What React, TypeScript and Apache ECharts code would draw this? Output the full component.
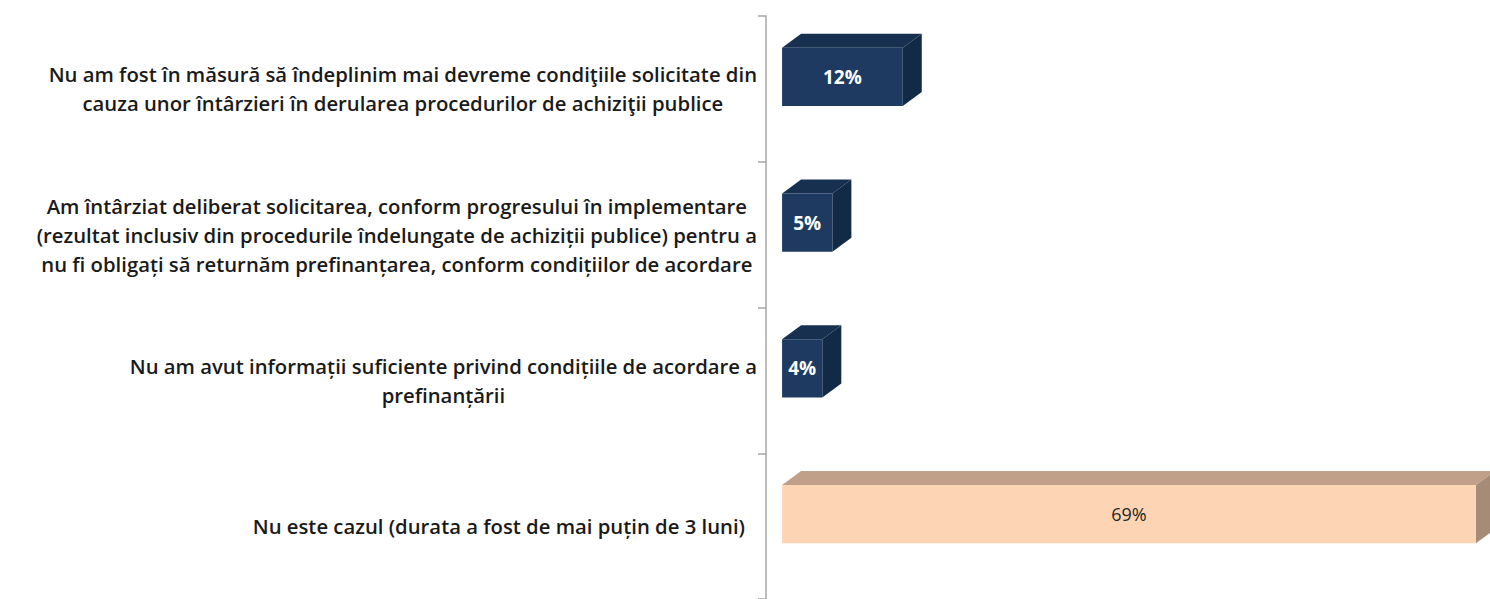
import React, { useEffect, useRef } from "react";
import * as echarts from "echarts";

const categories = [
  "Nu am fost în măsură să îndeplinim mai devreme condiţiile solicitate din\ncauza unor întârzieri în derularea procedurilor de achiziţii publice",
  "Am întârziat deliberat solicitarea, conform progresului în implementare\n(rezultat inclusiv din procedurile îndelungate de achiziții publice) pentru a\nnu fi obligați să returnăm prefinanțarea, conform condițiilor de acordare",
  "Nu am avut informații suficiente privind condițiile de acordare a\nprefinanțării",
  "Nu este cazul (durata a fost de mai puțin de 3 luni)",
];
const values = [12, 5, 4, 69];
const valueLabels = ["12%", "5%", "4%", "69%"];

const FONT = "'Open Sans', sans-serif";
const NAVY = { front: "#1e3a60", top: "#18304f", side: "#132a46", text: "#ffffff" };
const PEACH = { front: "#fdd5b4", top: "#c0a088", side: "#a68c77", text: "#262626" };
const HIGHLIGHT_LAST = true;

export default function App() {
  const ref = useRef<HTMLDivElement>(null);
  useEffect(() => {
    if (!ref.current) return;
    const chart = echarts.init(ref.current, undefined, { renderer: "svg" });
    const dx = 19;
    const dy = 14;
    const labelStyle = {
      align: "center",
      fontFamily: FONT,
      fontWeight: 600,
      fontSize: 20.3,
      lineHeight: 29,
      color: "#1a1a1a",
    };
    const option: any = {
      animation: false,
      backgroundColor: "#ffffff",
      grid: { left: 766, top: 16, height: 588, width: 720, containLabel: false },
      xAxis: { type: "value", min: -1.6, max: 70, show: false },
      yAxis: {
        type: "category",
        data: categories,
        inverse: true,
        axisLine: { show: true, onZero: false, lineStyle: { color: "#a6a6a6", width: 1.5 } },
        axisTick: { show: true, length: 8, lineStyle: { color: "#a6a6a6", width: 1.5 } },
        axisLabel: {
          margin: 9,
          formatter: (v: string) => {
            const last = v === categories[categories.length - 1];
            return v
              .split("\n")
              .map((l) => `{${last ? "d" : "c"}|${l}}`)
              .join("\n");
          },
          rich: {
            c: labelStyle,
            d: { ...labelStyle, padding: [0, 12, 0, 0] },
          },
        },
        splitLine: { show: false },
      },
      series: [
        {
          type: "custom",
          data: values.map((v, i) => [v, i]),
          clip: false,
          renderItem: (params: any, api: any) => {
            const v = api.value(0);
            const idx = api.value(1);
            const c = api.coord([v, idx]);
            const c0 = api.coord([0, idx]);
            const band = api.size([0, 1])[1];
            const h = band * 0.4;
            const yc = c[1] - band * 0.082;
            const top = yc - h / 2;
            const bottom = yc + h / 2;
            const x0 = c0[0];
            const x1 = c[0];
            const pal = HIGHLIGHT_LAST && idx === values.length - 1 ? PEACH : NAVY;
            const isNavy = pal === NAVY;
            return {
              type: "group",
              children: [
                {
                  type: "polygon",
                  shape: { points: [[x0, top], [x0 + dx, top - dy], [x1 + dx, top - dy], [x1, top]] },
                  style: { fill: pal.top },
                },
                {
                  type: "polygon",
                  shape: { points: [[x1, top], [x1 + dx, top - dy], [x1 + dx, bottom - dy], [x1, bottom]] },
                  style: { fill: pal.side },
                },
                {
                  type: "rect",
                  shape: { x: x0, y: top, width: x1 - x0, height: bottom - top },
                  style: { fill: pal.front },
                },
                {
                  type: "text",
                  x: (x0 + x1) / 2,
                  y: yc,
                  style: {
                    text: valueLabels[idx],
                    align: "center",
                    verticalAlign: "middle",
                    fill: pal.text,
                    fontFamily: FONT,
                    fontWeight: isNavy ? "bold" : "normal",
                    fontSize: isNavy ? 19 : 18,
                  },
                },
              ],
            };
          },
        },
      ],
    };
    chart.setOption(option);
    return () => chart.dispose();
  }, []);
  return (
    <div
      ref={ref}
      style={{ position: "fixed", left: 0, top: 0, width: 1490, height: 599, background: "#fff" }}
    />
  );
}
